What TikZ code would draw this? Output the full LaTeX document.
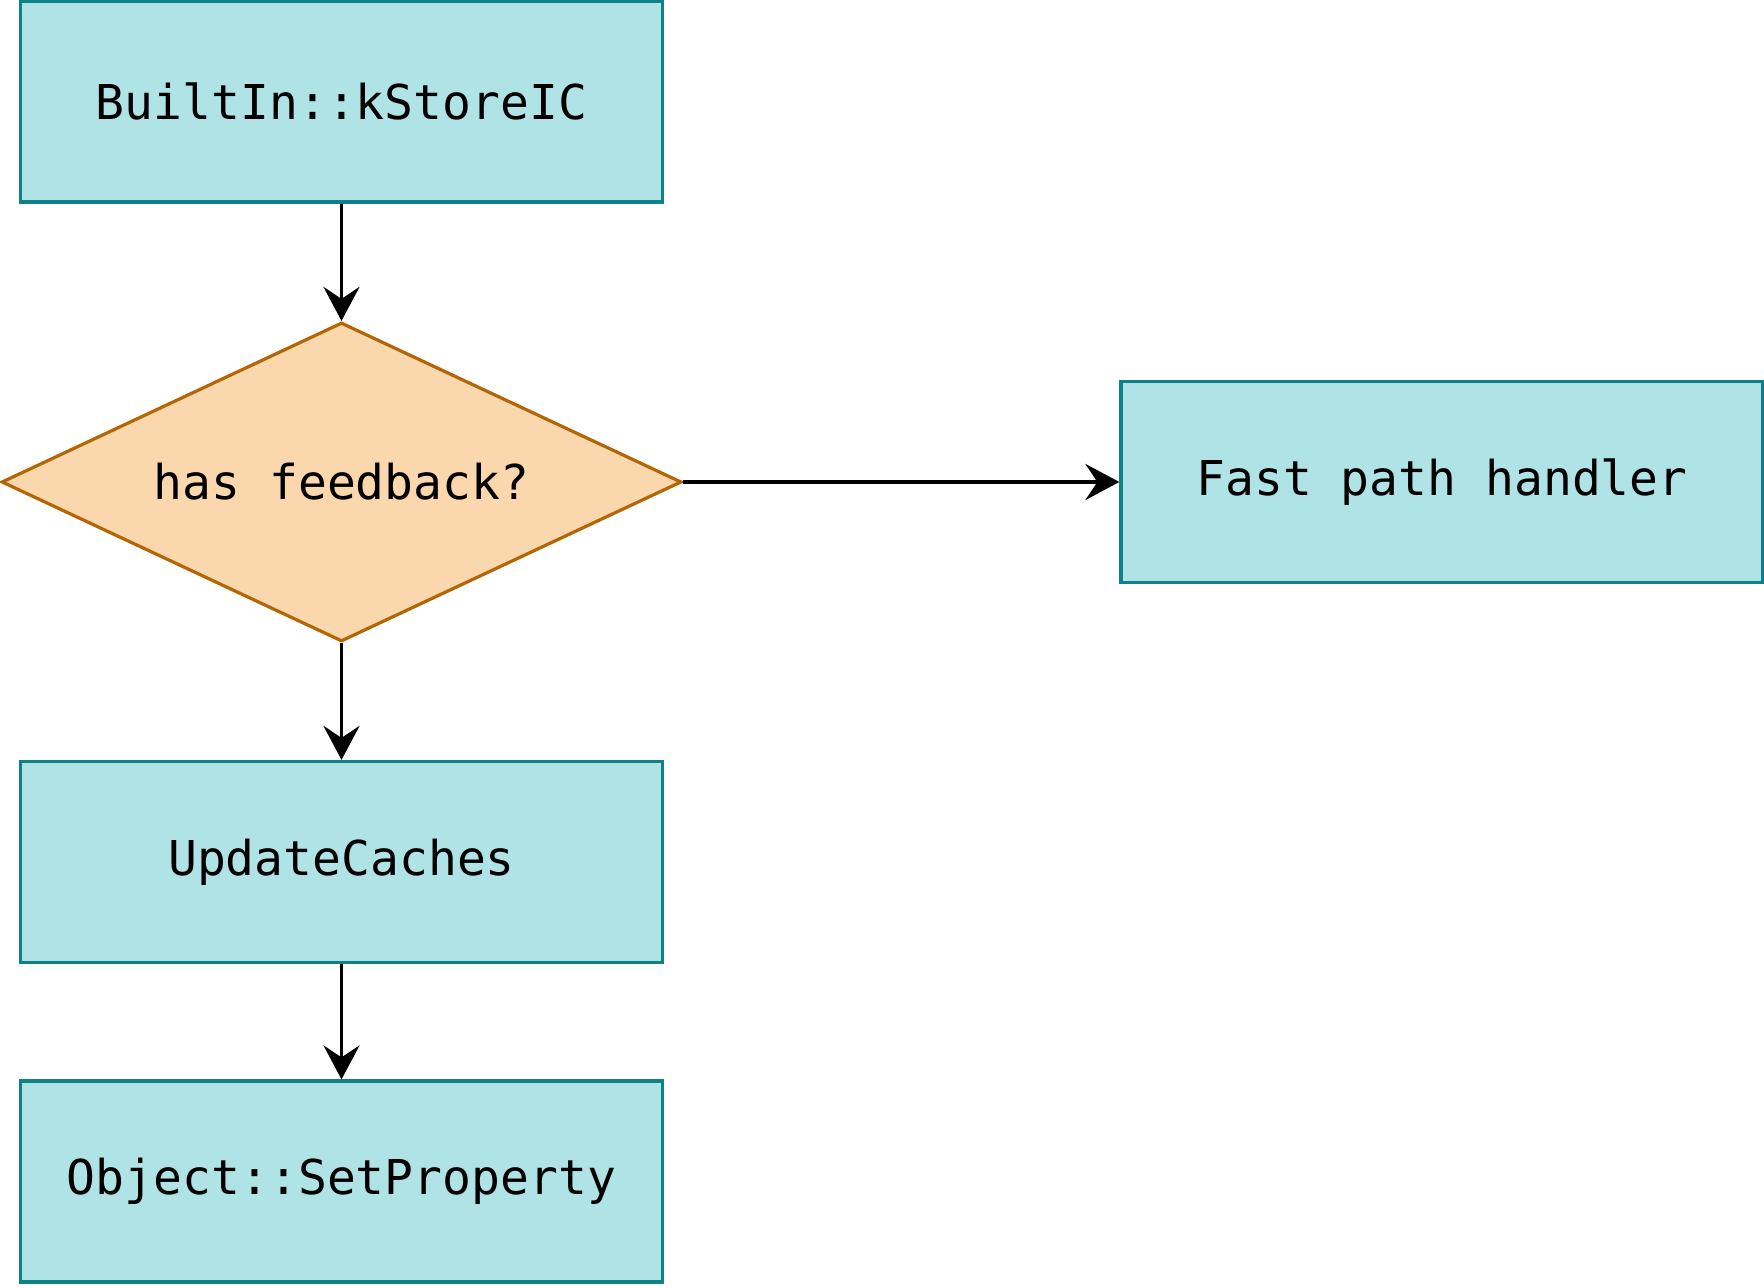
\documentclass[tikz,border=0pt]{standalone}
\usepackage{fontspec}
\setmonofont{DejaVu Sans Mono}
\usetikzlibrary{arrows.meta, shapes.geometric}

\definecolor{boxfill}{HTML}{B0E3E6}
\definecolor{boxline}{HTML}{0E8088}
\definecolor{askfill}{HTML}{FAD7AC}
\definecolor{askline}{HTML}{B46504}

\begin{document}
\begin{tikzpicture}[x=0.5pt, y=-0.5pt,
    block/.style={rectangle, draw=boxline, fill=boxfill, line width=1.6pt,
        minimum width=321pt, minimum height=100.5pt, inner sep=0pt,
        font=\ttfamily\fontsize{24}{28}\selectfont},
    decision/.style={diamond, draw=askline, fill=askfill, line width=1.6pt,
        minimum width=340pt, minimum height=159.5pt, inner sep=0pt, aspect=2.13,
        font=\ttfamily\fontsize{24}{28}\selectfont},
    flow/.style={-{Stealth[length=17pt, width=18pt, inset=6pt]}, line width=1.9pt}]
    \useasboundingbox (0,0) rectangle (1764,1288);
    \node[block] (storeic) at (341.5, 101.5) {BuiltIn::kStoreIC};
    \node[decision] (feedback) at (341.5, 482) {has feedback?};
    \node[block] (fastpath) at (1442, 482) {Fast path handler};
    \node[block] (update) at (341.5, 862) {UpdateCaches};
    \node[block] (setprop) at (341.5, 1181.5) {Object::SetProperty};
    \draw[flow] (storeic) -- (feedback);
    \draw[flow] (feedback) -- (fastpath);
    \draw[flow] (feedback) -- (update);
    \draw[flow] (update) -- (setprop);
\end{tikzpicture}
\end{document}
